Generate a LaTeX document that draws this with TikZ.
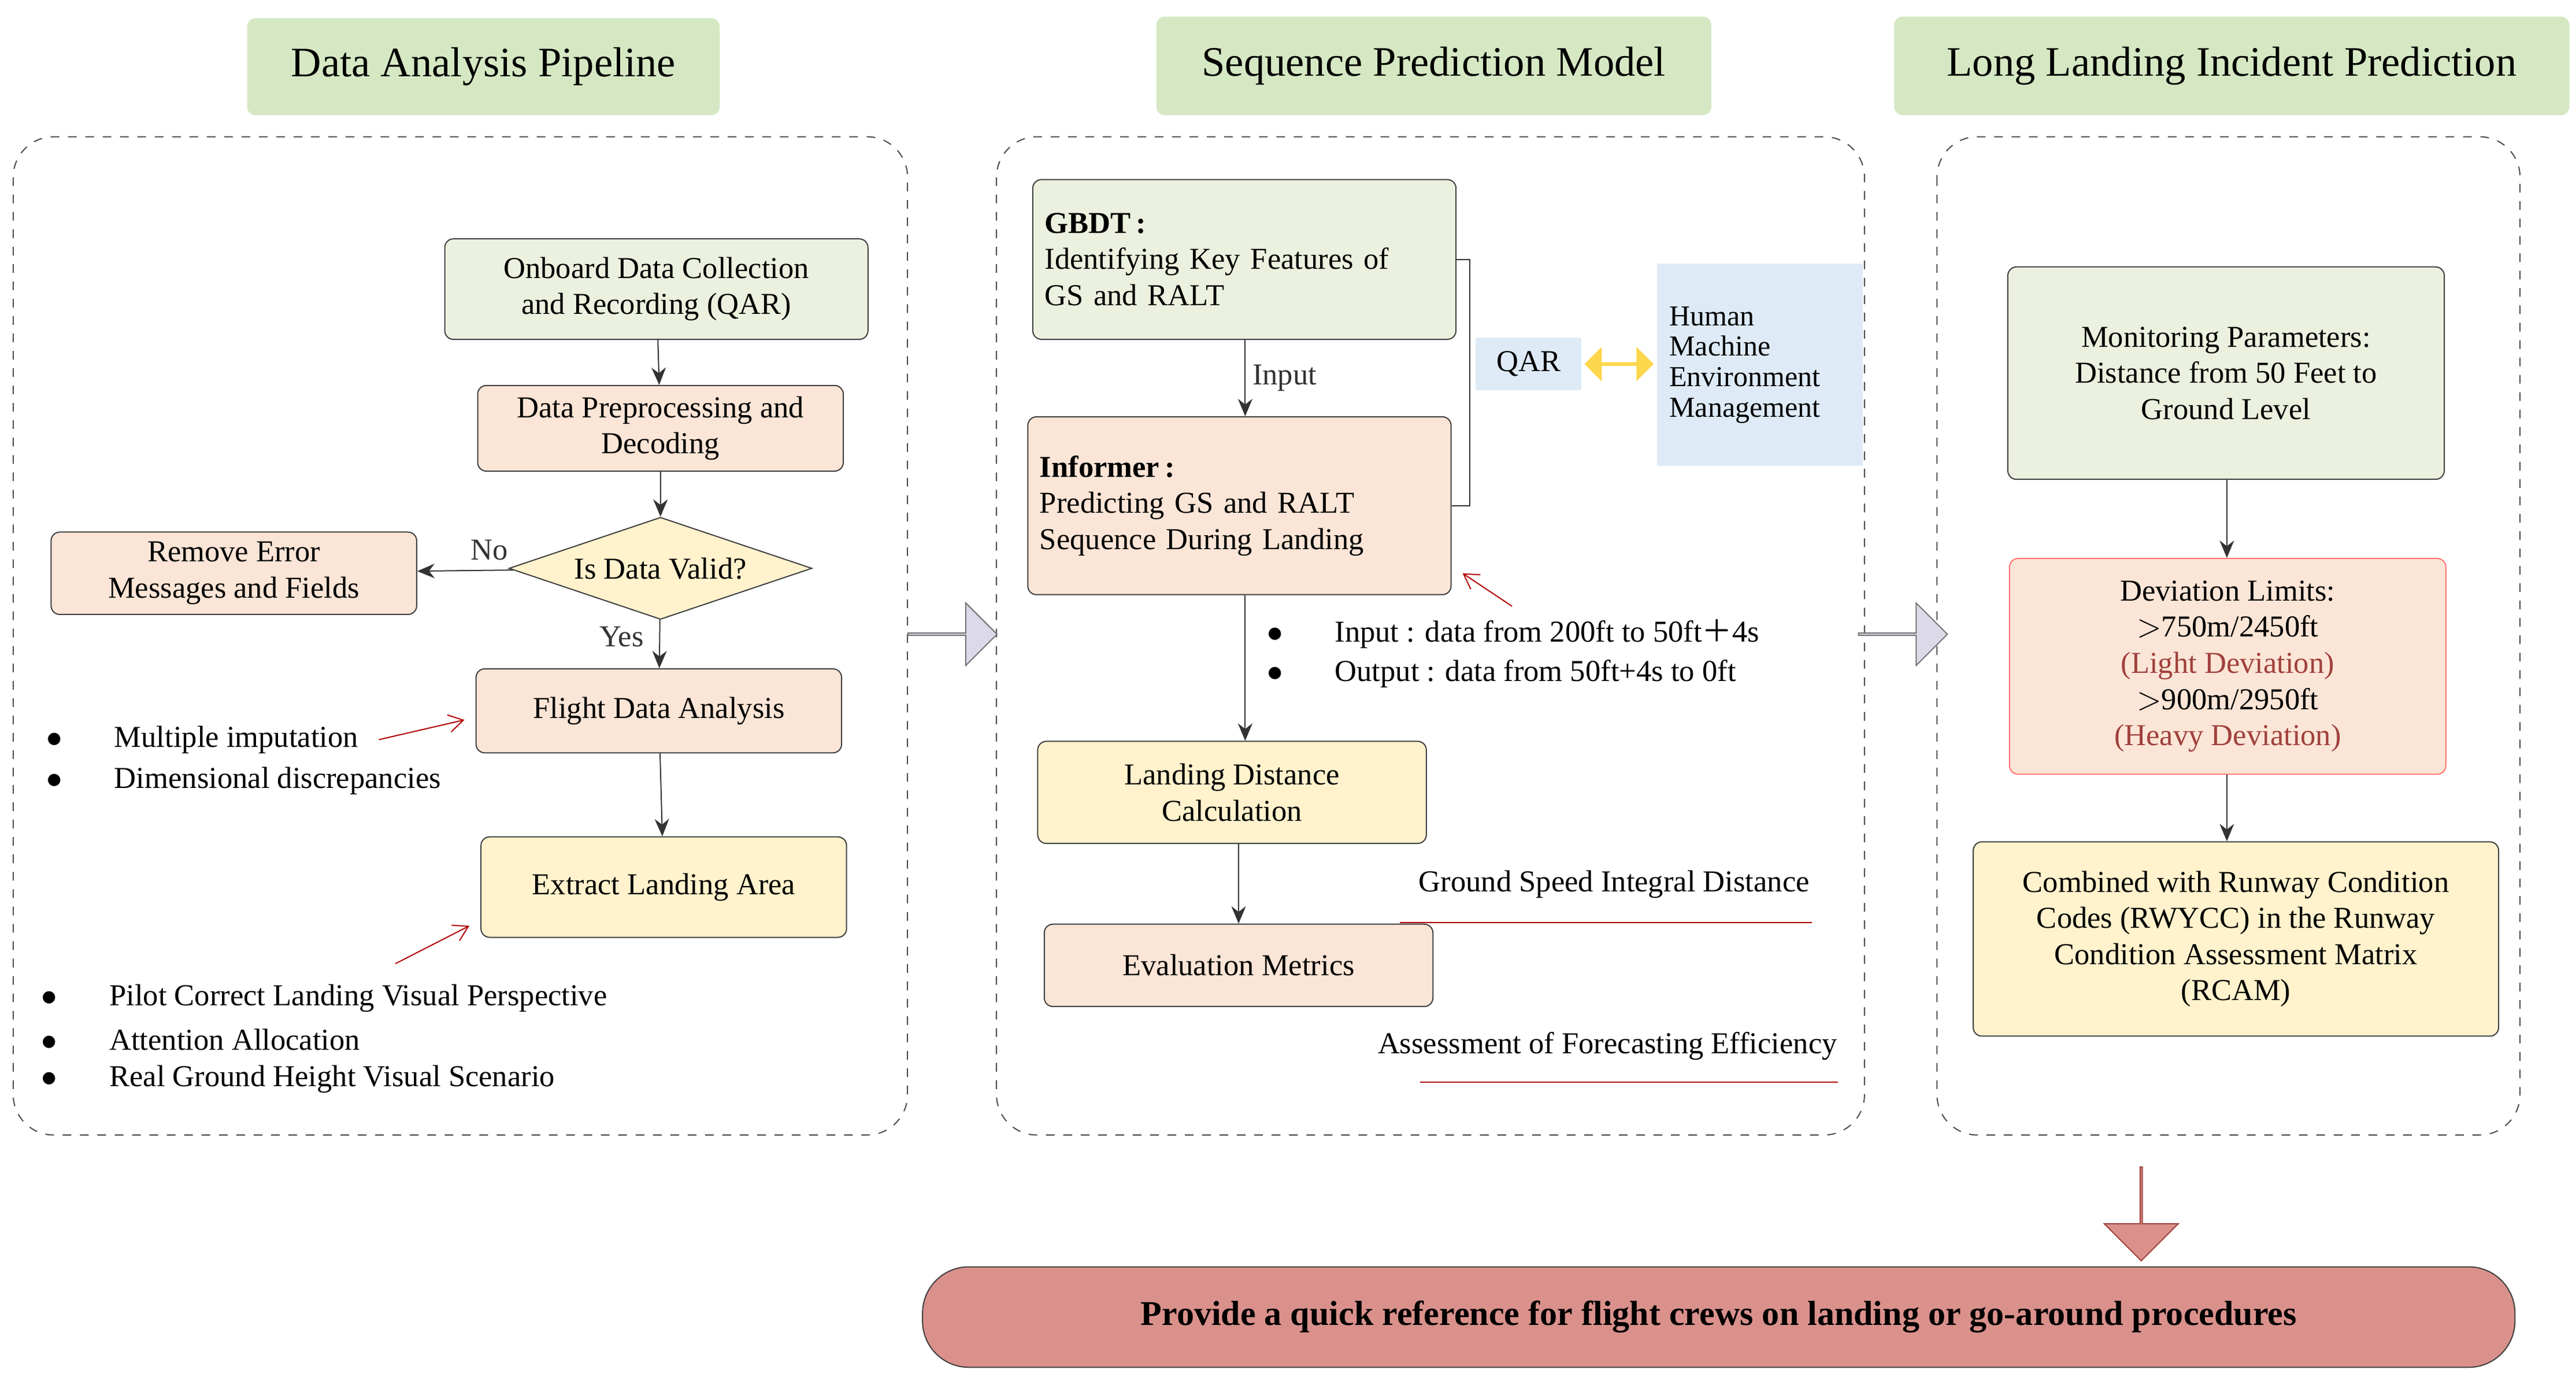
\documentclass[tikz,border=0pt]{standalone}
\usepackage{fontspec}
\setmainfont{Liberation Serif}
\newfontfamily\cjk{Noto Sans CJK SC}
\usetikzlibrary{arrows.meta,shapes.geometric,shapes.arrows}
\definecolor{tgreen}{HTML}{D5E8C3}
\definecolor{bgreen}{HTML}{EBF1DE}
\definecolor{bpeach}{HTML}{FBE5D6}
\definecolor{byellow}{HTML}{FFF2CC}
\definecolor{bblue}{HTML}{DEEBF7}
\definecolor{bred}{HTML}{DA918C}
\definecolor{dred}{HTML}{A0403C}
\definecolor{garr}{HTML}{DCDAE8}
\begin{document}
\begin{tikzpicture}[x=0.02cm,y=-0.02cm,
  every node/.style={font=\fontsize{10.5}{12.5}\selectfont},
  box/.style={draw=black!75,rounded corners=3pt,align=center,inner sep=2pt},
  title/.style={fill=tgreen,rounded corners=3pt,align=center,font=\fontsize{14.5}{17}\selectfont},
  panel/.style={draw=black!70,dashed,rounded corners=14pt},
  arr/.style={-{Stealth[length=6pt,width=5pt]},black!80},
  rarr/.style={-{Straight Barb[length=5pt,width=6pt]},red!70!black,thin},
  garrow/.style={single arrow,fill=garr,draw=black!55,minimum height=1.08cm,minimum width=0.76cm,single arrow head extend=0.19cm,inner sep=0pt},
  bul/.style={anchor=west,align=left,font=\fontsize{10.5}{12.5}\selectfont}]
\useasboundingbox (0,0) rectangle (1564,838);
% panels
\draw[panel] (8,83) rectangle (551,689);
\draw[panel] (605,83) rectangle (1132,689);
\draw[panel] (1176,83) rectangle (1530,689);
% titles
\node[title,minimum width=5.74cm,minimum height=1.18cm] (t1) at (293.5,40.5) {Data Analysis Pipeline};
\node[title,minimum width=6.74cm,minimum height=1.2cm] (t2) at (870.5,40) {Sequence Prediction Model};
\node[title,minimum width=8.2cm,minimum height=1.2cm] (t3) at (1355,40) {Long Landing Incident Prediction};
% left panel
\node[box,fill=bgreen,minimum width=5.14cm,minimum height=1.22cm] (onb) at (398.5,175.5) {Onboard Data Collection\\and Recording (QAR)};
\node[box,fill=bpeach,minimum width=4.44cm,minimum height=1.04cm] (pre) at (401,260) {Data Preprocessing and\\Decoding};
\node[diamond,draw=black!75,fill=byellow,minimum width=3.68cm,minimum height=1.24cm,aspect=3,inner sep=0pt] (val) at (401,345) {Is Data Valid?};
\node[box,fill=bpeach,minimum width=4.44cm,minimum height=1.0cm] (rem) at (142,348) {Remove Error\\Messages and Fields};
\node[box,fill=bpeach,minimum width=4.44cm,minimum height=1.02cm] (fla) at (400,431.5) {Flight Data Analysis};
\node[box,fill=byellow,minimum width=4.44cm,minimum height=1.22cm] (ext) at (403,538.5) {Extract Landing Area};
\draw[arr] (onb) -- (pre);
\draw[arr] (pre) -- (val);
\draw[arr] (val) -- (rem) node[pos=0.25,above] (no) {No};
\draw[arr] (val) -- (fla) node[pos=0.35,left=2pt] (yes) {Yes};
\draw[arr] (fla) -- (ext);
\node[bul] (b1) at (22,449) {$\bullet$\hspace{18pt}Multiple imputation};
\node[bul] (b2) at (22,474) {$\bullet$\hspace{18pt}Dimensional discrepancies};
\coordinate (r1) at (230,449); \coordinate (r1e) at (282,437);
\draw[rarr] (r1) -- (r1e);
\coordinate (r2) at (240,585); \coordinate (r2e) at (285,562);
\draw[rarr] (r2) -- (r2e);
\node[bul] (b3) at (19,606) {$\bullet$\hspace{18pt}Pilot Correct Landing Visual Perspective};
\node[bul] (b4) at (19,631) {$\bullet$\hspace{18pt}Attention Allocation};
\node[bul] (b5) at (19,655) {$\bullet$\hspace{18pt}Real Ground Height Visual Scenario};
% panel arrows
\node[garrow] (ga1) at (578,385) {};
\node[garrow] (ga2) at (1155,385) {};
% middle panel
\node[box,fill=bgreen,minimum width=5.14cm,minimum height=1.94cm,text width=4.85cm,align=left] (gb) at (755.5,157.5) {\textbf{GBDT\,:}\\Identifying Key Features of\\GS and RALT};
\node[box,fill=bpeach,minimum width=5.14cm,minimum height=2.16cm,text width=4.85cm,align=left] (inf) at (752.5,307) {\textbf{Informer\,:}\\Predicting GS and RALT\\Sequence During Landing};
\draw[arr] (gb.south -| 756,0) -- (inf.north -| 756,0) node[midway,right=-1pt] (inp) {Input};
\draw[black!80] (gb.east) -- ++(8,0) |- (inf.east);
\node[fill=bblue,minimum width=1.28cm,minimum height=0.64cm,inner sep=0pt] (qar) at (928,221) {QAR};
\node[fill=bblue,minimum width=2.5cm,minimum height=2.46cm,inner sep=0pt,text width=2.2cm,align=left,font=\fontsize{10}{10.5}\selectfont] (hm) at (1068.5,221.5) {Human\\Machine\\Environment\\Management};
\node[double arrow,fill=yellow!60!orange!70,minimum height=0.84cm,minimum width=0.42cm,double arrow head extend=0.06cm,inner sep=0pt] (da) at (983,221) {};
\coordinate (r3) at (918,368); \coordinate (r3e) at (888,348);
\draw[rarr] (r3) -- (r3e);
\node[bul] (b6) at (763,385) {$\bullet$\hspace{18pt}Input : data from 200ft to 50ft{\cjk ＋}4s};
\node[bul] (b7) at (763,409) {$\bullet$\hspace{18pt}Output : data from 50ft+4s to 0ft};
\node[box,fill=byellow,minimum width=4.72cm,minimum height=1.24cm] (ld) at (748,481) {Landing Distance\\Calculation};
\node[box,fill=bpeach,minimum width=4.72cm,minimum height=1.0cm] (ev) at (752,586) {Evaluation Metrics};
\draw[arr] (inf.south -| 756,0) -- (ld.north -| 756,0);
\draw[arr] (ld.south -| 752,0) -- (ev.north -| 752,0);
\node (gs) at (980,537) {Ground Speed Integral Distance};
\coordinate (u1a) at (850,560); \coordinate (u1b) at (1100,560);
\draw[red!70!black,thin] (u1a) -- (u1b);
\node (af) at (976,635) {Assessment of Forecasting Efficiency};
\coordinate (u2a) at (862,657); \coordinate (u2b) at (1116,657);
\draw[red!70!black,thin] (u2a) -- (u2b);
% right panel
\node[box,fill=bgreen,minimum width=5.3cm,minimum height=2.58cm] (mon) at (1351.5,226.5) {Monitoring Parameters:\\Distance from 50 Feet to\\Ground Level};
\node[box,draw=red!55,fill=bpeach,minimum width=5.3cm,minimum height=2.62cm] (dev) at (1352.5,404.5) {Deviation Limits:\\${>}$750m/2450ft\\\textcolor{dred}{(Light Deviation)}\\${>}$900m/2950ft\\\textcolor{dred}{(Heavy Deviation)}};
\node[box,fill=byellow,minimum width=6.38cm,minimum height=2.36cm] (cmb) at (1357.5,570) {Combined with Runway Condition\\Codes (RWYCC) in the Runway\\Condition Assessment Matrix\\(RCAM)};
\draw[arr] (mon.south -| 1352,0) -- (dev.north -| 1352,0);
\draw[arr] (dev.south -| 1352,0) -- (cmb.north -| 1352,0);
% bottom
\node[single arrow,shape border rotate=270,fill=bred,draw=dred,minimum height=1.14cm,minimum width=0.9cm,single arrow head extend=0.23cm,inner sep=0pt] (da2) at (1300,736.5) {};
\node[draw=black!75,fill=bred,rounded corners=16pt,minimum width=19.34cm,minimum height=1.22cm,font=\fontsize{12}{14}\selectfont\bfseries] (bot) at (1043.5,799.5) {Provide a quick reference for flight crews on landing or go-around procedures};
\end{tikzpicture}
\end{document}
